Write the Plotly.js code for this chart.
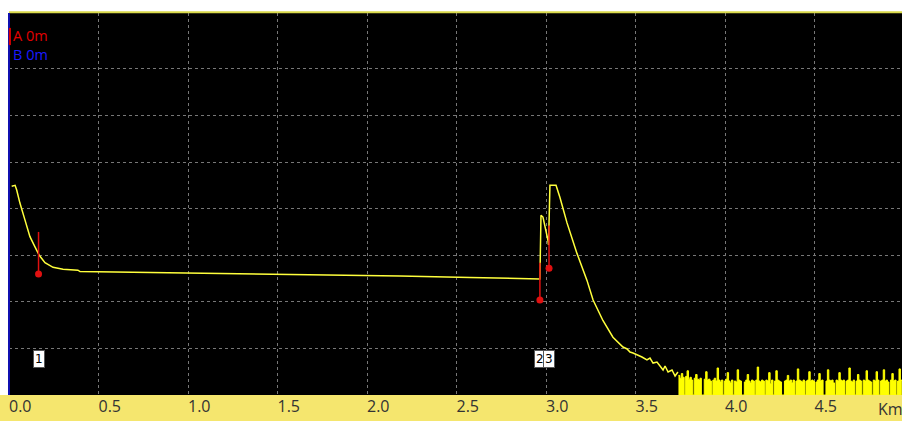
<!DOCTYPE html>
<html>
<head>
<meta charset="utf-8">
<script src="https://cdn.plot.ly/plotly-3.0.1.min.js"></script>
<style>html,body{margin:0;padding:0;background:#fff;}#chart{width:902px;height:421px;}</style>
</head>
<body>
<div id="chart"></div>
<script>
// OTDR trace: distance (km) and level (dB)
const traceKm = [0.015, 0.034, 0.043, 0.061, 0.089, 0.117, 0.145, 0.169, 0.201, 0.246, 0.302, 0.385, 0.397, 0.60, 1.067, 1.626, 2.184, 2.575, 2.743, 2.966, 2.972, 2.983, 3.011, 3.014, 3.022, 3.056, 3.078, 3.117, 3.173, 3.229, 3.263, 3.318, 3.374, 3.430, 3.453, 3.469, 3.486, 3.514, 3.536, 3.564, 3.581, 3.598, 3.620, 3.637, 3.654, 3.665, 3.682, 3.704, 3.721, 3.737];
const traceDb = [22.4, 22.5, 22.0, 20.6, 18.8, 17.0, 15.9, 15.0, 14.2, 13.7, 13.5, 13.4, 13.25, 13.2, 13.09, 12.93, 12.77, 12.61, 12.55, 12.45, 19.3, 19.1, 16.6, 16.1, 22.5, 22.5, 21.2, 18.5, 15.2, 12.3, 10.2, 8.0, 6.2, 5.15, 4.94, 4.61, 4.51, 4.29, 4.08, 3.76, 3.97, 3.43, 3.54, 3.11, 2.68, 3.11, 2.47, 2.68, 2.04, 2.47];

// Noise floor: sampled from noiseStartKm every noiseStepKm
const noiseStartKm = 3.74;
const noiseStepKm = 0.008;
const noiseDb = [
  2.1, 1.8, 2.3, 1.9, 0, 2.0, 2.6, 1.7, 1.9, 1.6,
  0, 1.8, 2.2, 1.7, 1.6, 1.8, 0, 0, 1.7, 2.5,
  1.6, 1.7, 1.5, 0, 1.6, 1.8, 1.5, 2.9, 1.6, 1.4,
  1.6, 0, 1.5, 1.7, 2.4, 1.5, 1.3, 1.6, 0, 1.5,
  1.4, 2.7, 1.6, 1.5, 0, 0, 1.4, 1.6, 2.2, 1.5,
  1.3, 1.6, 1.5, 0, 1.6, 3.0, 1.5, 1.4, 1.6, 1.5,
  0, 1.6, 1.5, 2.4, 1.2, 1.6, 0, 1.5, 2.6, 1.6,
  1.5, 1.4, 0, 0, 1.5, 1.6, 2.1, 1.5, 1.6, 1.3,
  1.6, 0, 1.5, 2.8, 1.6, 1.5, 1.4, 1.6, 0, 1.5,
  1.6, 2.5, 1.5, 1.6, 1.5, 0, 1.4, 1.6, 2.3, 1.5,
  1.6, 0, 0, 1.5, 2.7, 1.6, 1.5, 1.6, 1.3, 0,
  1.6, 1.5, 2.4, 1.6, 1.5, 1.6, 0, 1.5, 1.6, 2.9,
  1.5, 1.4, 1.6, 0, 1.5, 2.2, 1.6, 1.5, 0, 1.6,
  1.5, 2.6, 1.6, 1.5, 1.4, 0, 1.6, 1.5, 2.5, 1.6,
  0, 1.5, 1.6, 2.7, 1.5, 1.6, 1.4, 0, 1.6, 2.3,
  1.5, 1.6, 0, 1.5, 2.8, 1.6, 1.5
];

// Event markers
const eventLabels = ['1', '2', '3'];
const eventKm = [0.165, 2.966, 3.017];
const eventTopDb = [17.5, 14.2, 18.2];
const eventDotDb = [13.0, 10.2, 13.6];
const eventLabelDb = 3.9;

const xTicks = [0, 0.5, 1.0, 1.5, 2.0, 2.5, 3.0, 3.5, 4.0, 4.5];
const yGrid = [5, 10, 15, 20, 25, 30, 35];
const cursorText = ['A 0m', 'B 0m'];
const cursorColors = ['#e00000', '#1a1aff'];
const unitText = 'Km';

const noiseKm = noiseDb.map((_, i) => noiseStartKm + i * noiseStepKm);

const evX = [], evY = [];
eventKm.forEach((k, i) => { evX.push(k, k, null); evY.push(eventTopDb[i], eventDotDb[i], null); });

const YEL = '#ffff3c';
const data = [
  { x: noiseKm, y: noiseDb, mode: 'lines', line: { color: '#ffff00', width: 1, shape: 'hv' }, fill: 'tozeroy', fillcolor: '#ffff00', hoverinfo: 'skip' },
  { x: traceKm, y: traceDb, mode: 'lines', line: { color: YEL, width: 1.5 }, hoverinfo: 'skip' },
  { x: evX, y: evY, mode: 'lines', line: { color: '#e01010', width: 1.5 }, hoverinfo: 'skip' },
  { x: eventKm, y: eventDotDb, mode: 'markers', marker: { color: '#e01010', size: 7 }, hoverinfo: 'skip' }
];

const annotations = eventLabels.map((t, i) => ({
  x: eventKm[i], y: eventLabelDb, xref: 'x', yref: 'y', text: t, showarrow: false,
  font: { family: 'DejaVu Sans', size: 12, color: '#000' },
  bgcolor: '#ffffff', bordercolor: '#555', borderwidth: 1, borderpad: 1
}));
const cursorHtml = cursorText.map((t, i) => '<span style="color:' + cursorColors[i] + '">' + t + '</span>').join('<br>');
annotations.push(
  { xref: 'paper', yref: 'paper', x: 0.002, y: 0.972, xanchor: 'left', yanchor: 'top', align: 'left', text: cursorHtml, showarrow: false, font: { family: 'Open Sans', size: 14.5, color: '#e00000' } },
  { xref: 'paper', yref: 'paper', x: 0.971, y: -0.037, xanchor: 'left', yanchor: 'middle', text: unitText, showarrow: false, font: { family: 'Open Sans', size: 16, color: '#333' } }
);

const layout = {
  width: 902, height: 421,
  margin: { l: 9, r: 0, t: 13, b: 26, pad: 0 },
  paper_bgcolor: '#ffffff', plot_bgcolor: '#000000',
  showlegend: false,
  xaxis: {
    range: [0, 893 / 179], tickvals: xTicks, tickformat: '.1f',
    ticks: '', ticklabelposition: 'outside right',
    tickfont: { family: 'Open Sans', size: 16, color: '#333' },
    showgrid: true, gridcolor: '#777', griddash: 'dot', gridwidth: 1,
    zeroline: false, showline: false, fixedrange: true
  },
  yaxis: {
    range: [0, 41], tickvals: yGrid, showticklabels: false, ticks: '',
    showgrid: true, gridcolor: '#777', griddash: 'dot', gridwidth: 1,
    zeroline: false, showline: false, fixedrange: true
  },
  shapes: [
    { type: 'rect', xref: 'paper', yref: 'paper', x0: -0.02, x1: 1.02, y0: -0.1, y1: 0, fillcolor: '#f5e66e', line: { width: 0 }, layer: 'below' },
    { type: 'line', xref: 'paper', yref: 'paper', x0: 0, x1: 1.02, y0: 1.002, y1: 1.002, line: { color: '#d9d94a', width: 2 }, layer: 'above' },
    { type: 'line', xref: 'paper', yref: 'paper', x0: 0, x1: 0, y0: 0, y1: 1, line: { color: '#1010b0', width: 2 }, layer: 'above' },
    { type: 'line', xref: 'paper', yref: 'paper', x0: 0.001, x1: 0.001, y0: 0.916, y1: 0.961, line: { color: '#e00000', width: 2 }, layer: 'above' }
  ],
  annotations: annotations
};

Plotly.newPlot('chart', data, layout, { staticPlot: true, displayModeBar: false });
</script>
</body>
</html>
